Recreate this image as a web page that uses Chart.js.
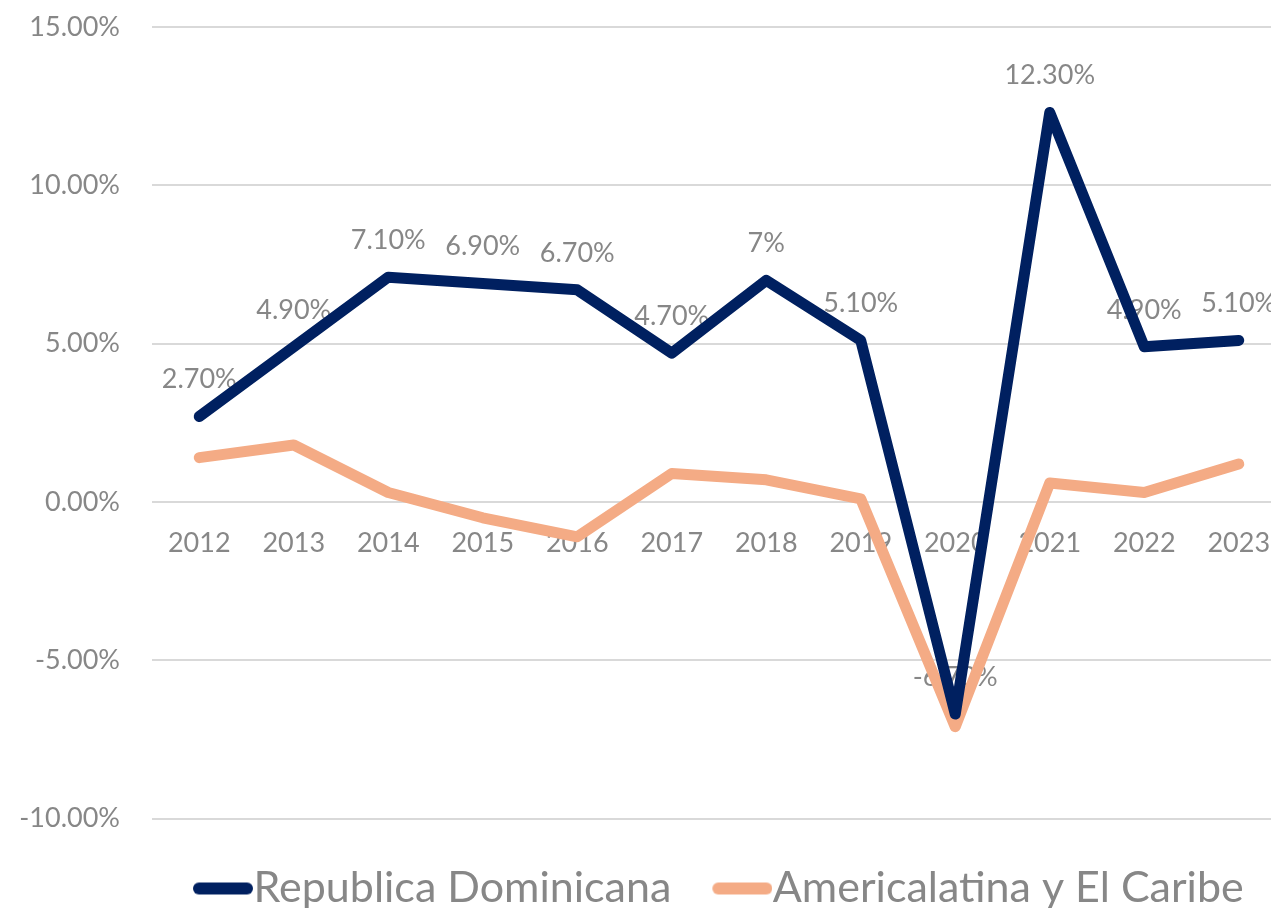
<!DOCTYPE html>
<html>
<head>
<meta charset="utf-8">
<script src="https://cdn.jsdelivr.net/npm/chart.js@4.4.1/dist/chart.umd.min.js"></script>
<style>
  html, body { margin: 0; padding: 0; background: #ffffff; overflow: hidden; }
  #wrap { width: 1286px; height: 920px; }
</style>
</head>
<body>
<div id="wrap"><canvas id="c" width="1286" height="920"></canvas></div>
<script>
const years = ['2012','2013','2014','2015','2016','2017','2018','2019','2020','2021','2022','2023'];
const repDom = [2.7, 4.9, 7.1, 6.9, 6.7, 4.7, 7.0, 5.1, -6.7, 12.3, 4.9, 5.1];
const repDomLabels = ['2.70%','4.90%','7.10%','6.90%','6.70%','4.70%','7%','5.10%','-6.70%','12.30%','4.90%','5.10%'];
const latam = [1.4, 1.8, 0.3, -0.5, -1.1, 0.9, 0.7, 0.1, -7.1, 0.6, 0.3, 1.2];
const yTicks = [-10, -5, 0, 5, 10, 15];

const FONT = 'Lato, "Open Sans", sans-serif';
const GRAY = '#878787';
const BLUE = '#002060';
const ORANGE = '#F4AB85';

function makeMarker(color) {
  const c = document.createElement('canvas');
  c.width = 102; c.height = 16;
  const g = c.getContext('2d');
  g.strokeStyle = color; g.lineWidth = 12; g.lineCap = 'round';
  g.beginPath(); g.moveTo(48, 8); g.lineTo(96, 8); g.stroke();
  return c;
}
const markers = [makeMarker(BLUE), makeMarker(ORANGE)];

const labelPlugin = {
  id: 'valueLabels',
  beforeDatasetsDraw(chart) {
    const meta = chart.getDatasetMeta(0);
    const ctx = chart.ctx;
    ctx.save();
    ctx.font = '27px ' + FONT;
    ctx.fillStyle = GRAY;
    ctx.textAlign = 'center';
    ctx.textBaseline = 'middle';
    meta.data.forEach((pt, i) => {
      ctx.fillText(repDomLabels[i], pt.x, pt.y - 37);
    });
    ctx.restore();
  }
};

new Chart(document.getElementById('c'), {
  type: 'line',
  data: {
    labels: years,
    datasets: [
      { label: 'Republica Dominicana', data: repDom, borderColor: BLUE, backgroundColor: BLUE,
        borderWidth: 11, borderCapStyle: 'round', borderJoinStyle: 'round', pointRadius: 0, tension: 0 },
      { label: 'Americalatina y El Caribe', data: latam, borderColor: ORANGE, backgroundColor: ORANGE,
        borderWidth: 11, borderCapStyle: 'round', borderJoinStyle: 'round', pointRadius: 0, tension: 0 }
    ]
  },
  options: {
    responsive: false,
    animation: false,
    layout: { padding: { top: 27, left: 0, right: 0, bottom: 0 } },
    scales: {
      x: {
        position: { y: 0 },
        offset: true,
        afterFit(scale) { scale.paddingLeft = 0; scale.paddingRight = 0; },
        grid: { display: false, drawTicks: false },
        border: { display: false },
        ticks: { color: GRAY, font: { family: FONT, size: 27 }, padding: 25, maxRotation: 0, autoSkip: false }
      },
      y: {
        min: -10, max: 15,
        afterBuildTicks(scale) { scale.ticks = yTicks.map(v => ({ value: v })); },
        afterFit(scale) { scale.width = 152; scale.paddingTop = 0; scale.paddingBottom = 0; },
        grid: { color: '#d9d9d9', lineWidth: 2, drawTicks: false },
        border: { display: false },
        ticks: { color: GRAY, font: { family: FONT, size: 27 }, padding: 32,
          callback: v => v.toFixed(2) + '%' }
      }
    },
    plugins: {
      legend: {
        position: 'bottom',
        fullSize: false,
        align: 'start',
        title: { display: true, text: '', font: { size: 12 }, padding: { top: 14, bottom: 0 } },
        labels: {
          usePointStyle: true, pointStyleWidth: 60,
          color: GRAY, font: { family: FONT, size: 43 }, padding: 20,
          generateLabels(chart) {
            const items = Chart.defaults.plugins.legend.labels.generateLabels(chart);
            items.forEach((it, i) => { it.pointStyle = markers[i]; });
            return items;
          }
        }
      },
      tooltip: { enabled: false }
    }
  },
  plugins: [labelPlugin]
});
</script>
</body>
</html>
